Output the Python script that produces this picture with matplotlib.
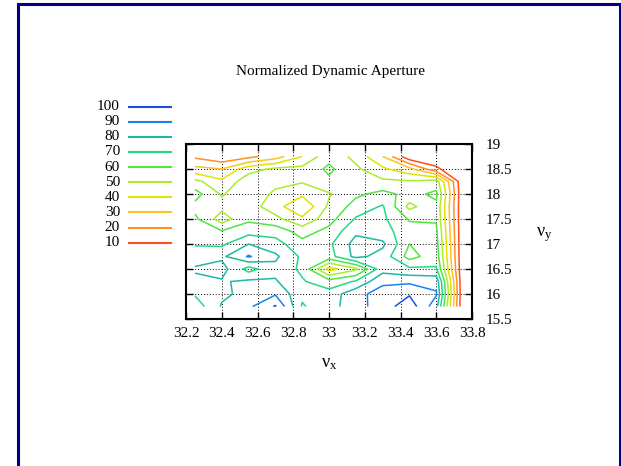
import matplotlib
matplotlib.use('Agg')
import matplotlib.pyplot as plt
import numpy as np
from matplotlib.lines import Line2D
from matplotlib.patches import Rectangle

plt.rcParams['font.family'] = ['Liberation Serif', 'DejaVu Serif']
plt.rcParams['mathtext.fontset'] = 'custom'
plt.rcParams['mathtext.rm'] = 'Liberation Serif'
plt.rcParams['mathtext.it'] = 'Liberation Serif:italic'

# tune scan grid
nux = [32.25, 32.40, 32.55, 32.70, 32.85, 33.00, 33.15, 33.30, 33.45, 33.60, 33.75]
nuy_top_down = [18.75, 18.50, 18.25, 18.00, 17.75, 17.50, 17.25,
                17.00, 16.75, 16.50, 16.25, 16.00, 15.75]

# normalized DA, one row per nuy (top row first)
da_top_down = [
    [18, 12, 17, 25, 40, 57, 47, 30, 2, 3, 0],
    [33, 30, 46, 52, 53, 62, 52, 42, 33, 12, 0],
    [53, 42, 56, 53, 51, 58, 56, 52, 51, 55, 0],
    [64, 49, 57, 48, 42, 49, 58, 63, 57, 62, 0],
    [57, 53, 55, 44, 31, 52, 64, 71, 47, 58, 0],
    [62, 45, 58, 53, 42, 56, 71, 72, 59, 59, 0],
    [66, 61, 66, 66, 56, 63, 78, 74, 64, 62, 0],
    [69, 68, 80, 74, 63, 68, 84, 82, 60, 64, 0],
    [76, 78, 91, 82, 68, 66, 83, 76, 56, 66, 0],
    [81, 84, 66, 77, 68, 36, 48, 76, 72, 71, 0],
    [78, 79, 82, 81, 71, 64, 71, 88, 88, 87, 0],
    [71, 78, 83, 89, 72, 74, 87, 94, 99, 91, 0],
    [64, 81, 88, 101, 69, 76, 86, 95, 106, 84, 0],
]

levels = [10, 20, 30, 40, 50, 60, 70, 80, 90, 100]
level_colors = ['#ff4f1c', '#ff8f26', '#ffc225', '#e3e300', '#a8ee2c',
                '#4fe63f', '#22d886', '#1db8a6', '#1a82ee', '#1a4fe0']

x_ticks = [32.2, 32.4, 32.6, 32.8, 33.0, 33.2, 33.4, 33.6, 33.8]
x_tick_labels = ['32.2', '32.4', '32.6', '32.8', '33', '33.2', '33.4', '33.6', '33.8']
y_ticks = [15.5, 16.0, 16.5, 17.0, 17.5, 18.0, 18.5, 19.0]
y_tick_labels = ['15.5', '16', '16.5', '17', '17.5', '18', '18.5', '19']

W, H = 621, 466
fig = plt.figure(figsize=(W / 100, H / 100), dpi=100)
ax = fig.add_axes([186 / W, 1 - 319 / H, (472 - 186) / W, (319 - 144) / H])

nuy = np.array(nuy_top_down[::-1])
Z = np.array(da_top_down[::-1], dtype=float)
ax.contour(nux, nuy, Z, levels=levels, colors=level_colors, linewidths=1.1, zorder=3)

ax.set_xlim(32.2, 33.8)
ax.set_ylim(15.5, 19.0)
ax.set_xticks(x_ticks)
ax.set_xticklabels(x_tick_labels)
ax.set_yticks(y_ticks)
ax.set_yticklabels(y_tick_labels)
ax.tick_params(direction='in', top=True, right=True, labelleft=False, labelright=True,
               length=5, width=1, labelsize=11)
ax.tick_params(axis='x', pad=6)
ax.tick_params(axis='y', pad=10)
ax.set_axisbelow(True)
ax.grid(True, linestyle=(0, (1, 2)), color='black', linewidth=0.7)
for s in ax.spines.values():
    s.set_linewidth(1.5)

# texts
fig.text(330 / W, 1 - 72 / H, 'Normalized Dynamic Aperture', ha='center', va='center', fontsize=11)
fig.text(329 / W, 1 - 364 / H, r'$\mathrm{\nu}_\mathrm{x}$', ha='center', va='center', fontsize=13)
fig.text(544 / W, 1 - 235 / H, r'$\mathrm{\nu}_\mathrm{y}$', ha='center', va='center', fontsize=13)

# key, highest level first
for i, (lev, col) in enumerate(zip(levels[::-1], level_colors[::-1])):
    fy = 1 - (106.7 + i * 15.1) / H
    fig.text(120 / W, fy, str(lev), ha='right', va='center', fontsize=11)
    fig.add_artist(Line2D([129 / W, 171 / W], [fy, fy], transform=fig.transFigure,
                          color=col, linewidth=1.5))

# outer frame
fig.add_artist(Rectangle((17.5 / W, -0.1), (620 - 17.5) / W, 1.1 - 3.5 / H,
                         transform=fig.transFigure, fill=False,
                         edgecolor='#000080', linewidth=2.2))

fig.savefig('out.png', dpi=100)
